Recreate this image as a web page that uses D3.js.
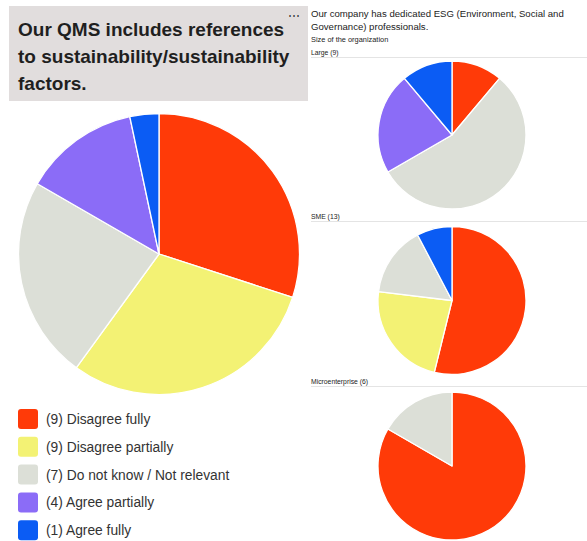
<!DOCTYPE html>
<html>
<head>
<meta charset="utf-8">
<script src="https://cdn.jsdelivr.net/npm/d3@7"></script>
<style>
  html, body { margin: 0; padding: 0; background: #fff; }
  svg { display: block; font-family: "Liberation Sans", Arial, Helvetica, sans-serif; }
</style>
</head>
<body>
<svg id="chart" width="587" height="541"></svg>
<script>
// Response categories and their colours
const categories = ["Disagree fully", "Disagree partially", "Do not know / Not relevant", "Agree partially", "Agree fully"];
const colors = ["#ff3a08", "#f3f274", "#dcdfd7", "#8b6cf7", "#0b5cf4"];

// QMS question: counts per category
const qmsCounts = [9, 9, 7, 4, 1];

// ESG professionals question, split by organisation size
const sizeGroups = ["Large", "SME", "Microenterprise"];
const largeCounts = [1, 0, 5, 2, 1];
const smeCounts = [7, 3, 2, 0, 1];
const microCounts = [5, 0, 1, 0, 0];
const groupCounts = [largeCounts, smeCounts, microCounts];

const svg = d3.select("#chart");
const color = d3.scaleOrdinal().domain(categories).range(colors);
const pie = d3.pie().sort(null).value(d => d.value);

function drawPie(g, counts, r) {
  const data = categories.map((c, i) => ({ cat: c, value: counts[i] }));
  const arc = d3.arc().innerRadius(0).outerRadius(r);
  g.selectAll("path")
    .data(pie(data).filter(d => d.data.value > 0))
    .join("path")
    .attr("d", arc)
    .attr("fill", d => color(d.data.cat))
    .attr("stroke", "#fff")
    .attr("stroke-width", 1.3)
    .attr("stroke-linejoin", "round");
}

// ---- Left panel: title card, main pie, legend ----
svg.append("rect")
  .attr("x", 9).attr("y", 6).attr("width", 299).attr("height", 95)
  .attr("fill", "#e1dddd");

const titleLines = ["Our QMS includes references", "to sustainability/sustainability", "factors."];
svg.append("g").selectAll("text")
  .data(titleLines)
  .join("text")
  .attr("x", 18)
  .attr("y", (d, i) => 36 + i * 27.2)
  .attr("font-size", 19)
  .attr("font-weight", 700)
  .attr("fill", "#1f1f1f")
  .text(d => d);

svg.append("text")
  .attr("x", 294).attr("y", 20)
  .attr("text-anchor", "middle")
  .attr("font-size", 12)
  .attr("fill", "#333")
  .text("\u22EF");

drawPie(svg.append("g").attr("transform", "translate(159,254)"), qmsCounts, 140.5);

const legend = svg.append("g").attr("transform", "translate(18,409)");
const rows = legend.selectAll("g")
  .data(categories)
  .join("g")
  .attr("transform", (d, i) => `translate(0,${i * 27.8})`);
rows.append("rect")
  .attr("width", 20).attr("height", 20).attr("rx", 3)
  .attr("fill", d => color(d));
rows.append("text")
  .attr("x", 28).attr("y", 15)
  .attr("font-size", 13.8)
  .attr("fill", "#333")
  .text((d, i) => `(${qmsCounts[i]}) ${d}`);

// ---- Right panel: ESG question by organisation size ----
const right = svg.append("g");
right.append("text").attr("x", 311).attr("y", 17)
  .attr("font-size", 9.6).attr("fill", "#222")
  .text("Our company has dedicated ESG (Environment, Social and");
right.append("text").attr("x", 311).attr("y", 30)
  .attr("font-size", 9.6).attr("fill", "#222")
  .text("Governance) professionals.");
right.append("text").attr("x", 311).attr("y", 42)
  .attr("font-size", 7.4).attr("fill", "#222")
  .text("Size of the organization");

const panelTop = [47, 211, 376];
const pieCenterY = [135, 300.5, 466];
sizeGroups.forEach((name, i) => {
  const total = d3.sum(groupCounts[i]);
  right.append("text").attr("x", 311).attr("y", panelTop[i] + 8)
    .attr("font-size", 6.8).attr("fill", "#222")
    .text(`${name} (${total})`);
  right.append("line")
    .attr("x1", 311).attr("x2", 587)
    .attr("y1", panelTop[i] + 10.5).attr("y2", panelTop[i] + 10.5)
    .attr("stroke", "#e4e4e4").attr("stroke-width", 1);
  drawPie(right.append("g").attr("transform", `translate(452,${pieCenterY[i]})`), groupCounts[i], 74);
});
</script>
</body>
</html>
